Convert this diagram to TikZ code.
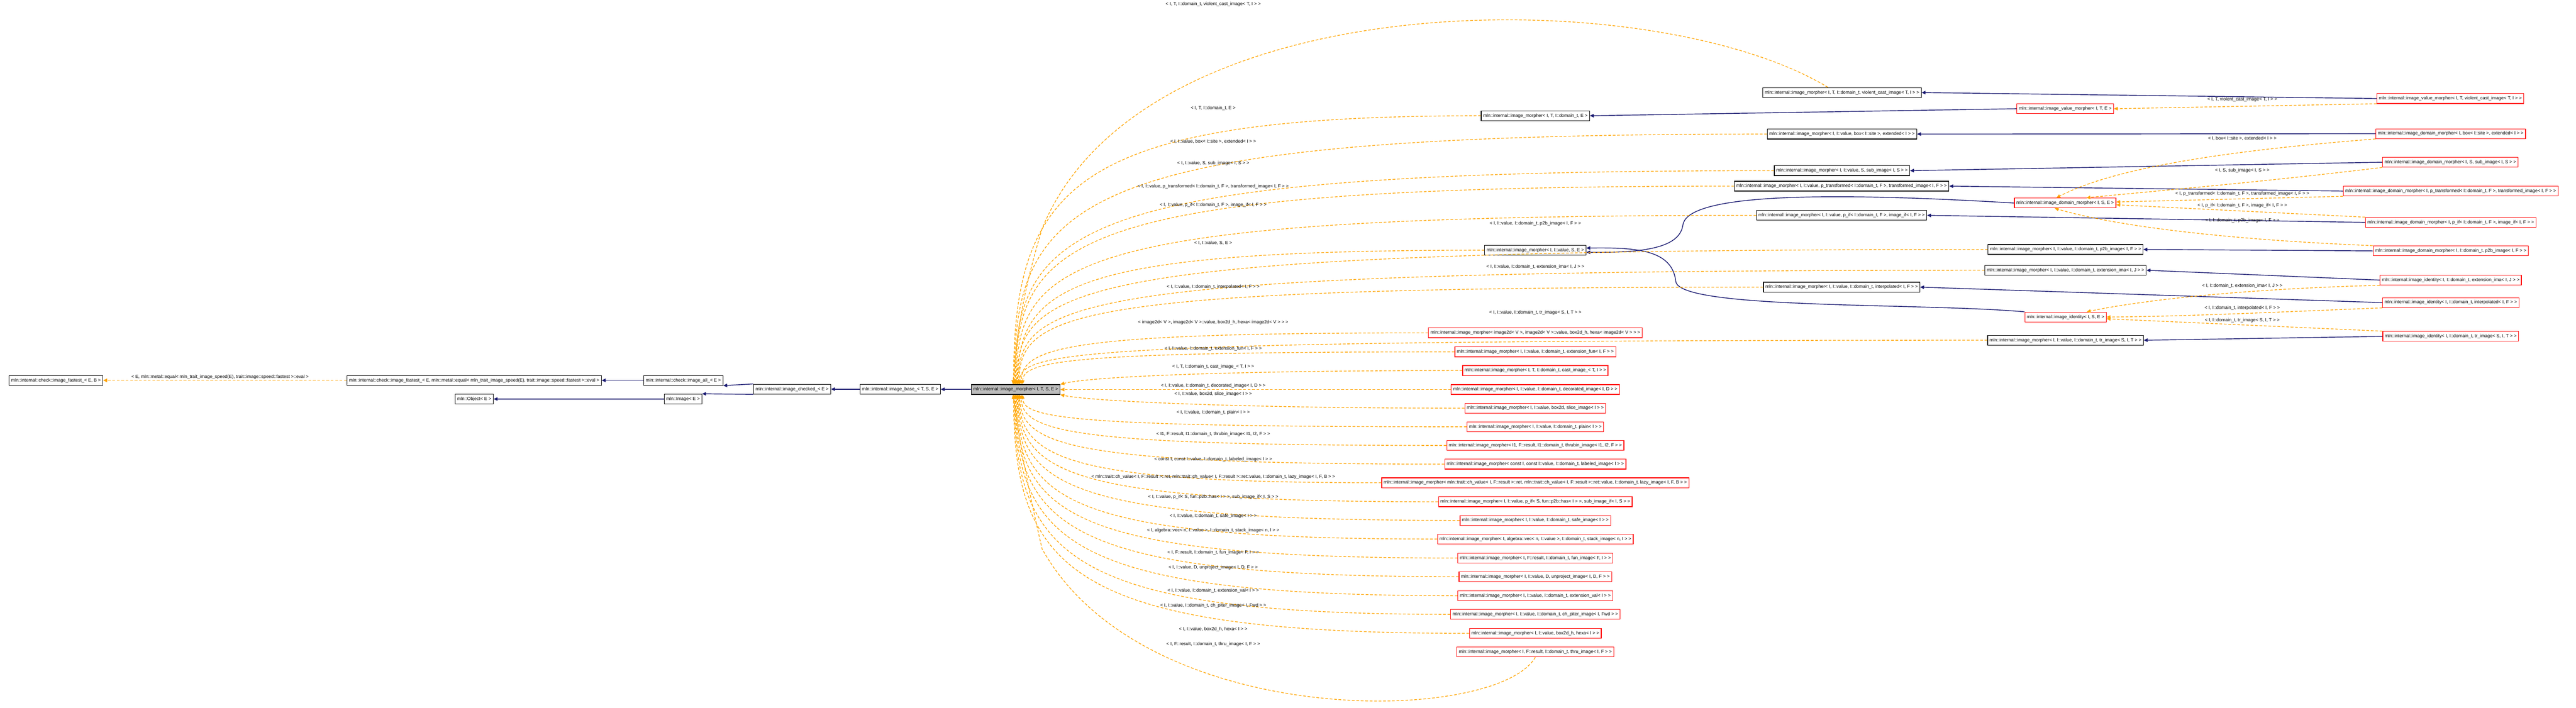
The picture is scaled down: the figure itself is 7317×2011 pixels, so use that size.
\documentclass[tikz,border=0pt]{standalone}
\usepackage{fontspec}
\setmainfont{Liberation Sans}
\usetikzlibrary{arrows.meta,calc}
\definecolor{navy}{HTML}{191970}
\definecolor{dorange}{HTML}{FFA500}
\newcommand\fsz{\fontsize{3.7pt}{4.4pt}\selectfont}
\tikzset{
  cls/.style={draw=black,fill=white,font=\fsz,minimum height=0.28cm,inner xsep=1.6pt,inner ysep=0pt,line width=0.5pt},
  rcls/.style={cls,draw=red},
  focusbox/.style={cls,fill=black!25},
  lbl/.style={font=\fsz,inner sep=0pt},
  inh/.style={draw=navy,line width=0.6pt,-{Triangle[length=3.2pt,width=2.8pt]}},
  dep/.style={draw=dorange,line width=0.55pt,dash pattern=on 2.2pt off 1.4pt,-{Triangle[length=3.2pt,width=2.8pt]}}
}
\begin{document}
\begin{tikzpicture}[x=0.01cm,y=-0.01cm]
\useasboundingbox (0,0) rectangle (7317,2011);
% left chain
\node[cls] (fEB) at (159,1081) {mln::internal::check::image\_fastest\_< E, B >};
\node[cls] (fE) at (1347,1081) {mln::internal::check::image\_fastest\_< E, mln::metal::equal< mln\_trait\_image\_speed(E), trait::image::speed::fastest >::eval >};
\node[cls] (all) at (1941,1081) {mln::internal::check::image\_all\_< E >};
\node[cls] (chk) at (2250,1106) {mln::internal::image\_checked\_< E >};
\node[cls] (base) at (2557,1106) {mln::internal::image\_base\_< T, S, E >};
\node[cls] (img) at (1940,1134) {mln::Image< E >};
\node[cls] (obj) at (1347,1134) {mln::Object< E >};
\node[focusbox] (F) at (2885,1107) {mln::internal::image\_morpher< I, T, S, E >};
\draw[inh] (F) -- (base);
\draw[inh] (base) -- (chk);
\draw[inh] (chk.north west) -- (all.south east);
\draw[inh] (chk.south west) -- (img.north east);
\draw[inh] (all) -- (fE);
\draw[inh] (img) -- (obj);
\draw[dep] (fE) -- (fEB);
\node[lbl] at (625,1072) {< E, mln::metal::equal< mln\_trait\_image\_speed(E), trait::image::speed::fastest >::eval >};
% middle column
\node[cls] (TdE) at (4361,329) {mln::internal::image\_morpher< I, T, I::domain\_t, E >};
\node[cls] (vSE) at (4361,711) {mln::internal::image\_morpher< I, I::value, S, E >};
\node[rcls] (hexa2d) at (4361,946) {mln::internal::image\_morpher< image2d< V >, image2d< V >::value, box2d\_h, hexa< image2d< V > > >};
\node[rcls] (extfun) at (4361,1000) {mln::internal::image\_morpher< I, I::value, I::domain\_t, extension\_fun< I, F > >};
\node[rcls] (cast) at (4361,1053) {mln::internal::image\_morpher< I, T, I::domain\_t, cast\_image\_< T, I > >};
\node[rcls] (deco) at (4361,1107) {mln::internal::image\_morpher< I, I::value, I::domain\_t, decorated\_image< I, D > >};
\node[rcls] (slice) at (4361,1160) {mln::internal::image\_morpher< I, I::value, box2d, slice\_image< I > >};
\node[rcls] (plain) at (4361,1213) {mln::internal::image\_morpher< I, I::value, I::domain\_t, plain< I > >};
\node[rcls] (thrubin) at (4361,1266) {mln::internal::image\_morpher< I1, F::result, I1::domain\_t, thrubin\_image< I1, I2, F > >};
\node[rcls] (labeled) at (4361,1319) {mln::internal::image\_morpher< const I, const I::value, I::domain\_t, labeled\_image< I > >};
\node[rcls] (lazy) at (4361,1372) {mln::internal::image\_morpher< mln::trait::ch\_value< I, F::result >::ret, mln::trait::ch\_value< I, F::result >::ret::value, I::domain\_t, lazy\_image< I, F, B > >};
\node[rcls] (subif) at (4361,1426) {mln::internal::image\_morpher< I, I::value, p\_if< S, fun::p2b::has< I > >, sub\_image\_if< I, S > >};
\node[rcls] (safe) at (4361,1479) {mln::internal::image\_morpher< I, I::value, I::domain\_t, safe\_image< I > >};
\node[rcls] (stack) at (4361,1532) {mln::internal::image\_morpher< I, algebra::vec< n, I::value >, I::domain\_t, stack\_image< n, I > >};
\node[rcls] (funimg) at (4361,1586) {mln::internal::image\_morpher< I, F::result, I::domain\_t, fun\_image< F, I > >};
\node[rcls] (unproj) at (4361,1639) {mln::internal::image\_morpher< I, I::value, D, unproject\_image< I, D, F > >};
\node[rcls] (extval) at (4361,1693) {mln::internal::image\_morpher< I, I::value, I::domain\_t, extension\_val< I > >};
\node[rcls] (chpiter) at (4361,1746) {mln::internal::image\_morpher< I, I::value, I::domain\_t, ch\_piter\_image< I, Fwd > >};
\node[rcls] (hexa) at (4361,1800) {mln::internal::image\_morpher< I, I::value, box2d\_h, hexa< I > >};
\node[rcls] (thru) at (4361,1853) {mln::internal::image\_morpher< I, F::result, I::domain\_t, thru\_image< I, F > >};
% column 5232
\node[cls] (violB) at (5232,263) {mln::internal::image\_morpher< I, T, I::domain\_t, violent\_cast\_image< T, I > >};
\node[cls] (extB) at (5232,381) {mln::internal::image\_morpher< I, I::value, box< I::site >, extended< I > >};
\node[cls] (subB) at (5232,485) {mln::internal::image\_morpher< I, I::value, S, sub\_image< I, S > >};
\node[cls] (transB) at (5231,529) {mln::internal::image\_morpher< I, I::value, p\_transformed< I::domain\_t, F >, transformed\_image< I, F > >};
\node[cls] (ifB) at (5231,612) {mln::internal::image\_morpher< I, I::value, p\_if< I::domain\_t, F >, image\_if< I, F > >};
\node[cls] (interpB) at (5231,816) {mln::internal::image\_morpher< I, I::value, I::domain\_t, interpolated< I, F > >};
% column 5867
\node[rcls] (vmTE) at (5866,309) {mln::internal::image\_value\_morpher< I, T, E >};
\node[rcls] (dmSE) at (5866,577) {mln::internal::image\_domain\_morpher< I, S, E >};
\node[cls] (p2bB) at (5867,709) {mln::internal::image\_morpher< I, I::value, I::domain\_t, p2b\_image< I, F > >};
\node[cls] (extimaB) at (5867,768) {mln::internal::image\_morpher< I, I::value, I::domain\_t, extension\_ima< I, J > >};
\node[rcls] (idSE) at (5867,901) {mln::internal::image\_identity< I, S, E >};
\node[cls] (trimB) at (5867,967) {mln::internal::image\_morpher< I, I::value, I::domain\_t, tr\_image< S, I, T > >};
% column 6961
\node[rcls] (vmviol) at (6960,280) {mln::internal::image\_value\_morpher< I, T, violent\_cast\_image< T, I > >};
\node[rcls] (dmext) at (6961,380) {mln::internal::image\_domain\_morpher< I, box< I::site >, extended< I > >};
\node[rcls] (dmsub) at (6960,461) {mln::internal::image\_domain\_morpher< I, S, sub\_image< I, S > >};
\node[rcls] (dmtrans) at (6961,543) {mln::internal::image\_domain\_morpher< I, p\_transformed< I::domain\_t, F >, transformed\_image< I, F > >};
\node[rcls] (dmif) at (6961,632) {mln::internal::image\_domain\_morpher< I, p\_if< I::domain\_t, F >, image\_if< I, F > >};
\node[rcls] (dmp2b) at (6961,713) {mln::internal::image\_domain\_morpher< I, I::domain\_t, p2b\_image< I, F > >};
\node[rcls] (idextima) at (6961,796) {mln::internal::image\_identity< I, I::domain\_t, extension\_ima< I, J > >};
\node[rcls] (idinterp) at (6961,860) {mln::internal::image\_identity< I, I::domain\_t, interpolated< I, F > >};
\node[rcls] (idtrim) at (6961,956) {mln::internal::image\_identity< I, I::domain\_t, tr\_image< S, I, T > >};
% inheritance (navy)
\draw[inh] (vmviol.west) -- (violB.east);
\draw[inh] (vmTE.west) -- (TdE.east);
\draw[inh] (dmext.west) -- (extB.east);
\draw[inh] (dmsub.west) -- (subB.east);
\draw[inh] (dmtrans.west) -- (transB.east);
\draw[inh] (dmif.west) -- (ifB.east);
\draw[inh] (dmp2b.west) -- (p2bB.east);
\draw[inh] (idextima.west) -- (extimaB.east);
\draw[inh] (idinterp.west) -- (interpB.east);
\draw[inh] (idtrim.west) -- (trimB.east);
\draw[inh] (dmSE.west) .. controls (5100,540) and (4790,560) .. (4780,640) .. controls (4770,710) and (4650,718) .. ([yshift=-0.06cm]vSE.east);
\draw[inh] (idSE.north west) .. controls (5450,860) and (4770,880) .. (4760,800) .. controls (4750,710) and (4650,703) .. ([yshift=0.06cm]vSE.east);
% template deps (right column to middle templates)
\draw[dep] (vmviol.south west) -- (vmTE.east);
\draw[dep] (dmext.south west) .. controls (6300,430) and (6000,480) .. ([xshift=-0.25cm]dmSE.north);
\draw[dep] (dmsub.south west) .. controls (6400,520) and (6150,540) .. ([xshift=0.6cm]dmSE.north);
\draw[dep] (dmtrans.south west) -- ([yshift=0.03cm]dmSE.east);
\draw[dep] (dmif.north west) -- ([yshift=-0.05cm]dmSE.east);
\draw[dep] (dmp2b.north west) .. controls (6300,680) and (6000,640) .. ([xshift=-0.3cm]dmSE.south);
\draw[dep] (idextima.south west) .. controls (6400,820) and (6100,850) .. ([xshift=0.6cm]idSE.north);
\draw[dep] (idinterp.south west) .. controls (6400,890) and (6200,899) .. (idSE.east);
\draw[dep] (idtrim.north west) -- ([yshift=-0.05cm]idSE.east);
\node[lbl] at (6369,283) {< I, T, violent\_cast\_image< T, I > >};
\node[lbl] at (6369,394) {< I, box< I::site >, extended< I > >};
\node[lbl] at (6369,484) {< I, S, sub\_image< I, S > >};
\node[lbl] at (6369,551) {< I, p\_transformed< I::domain\_t, F >, transformed\_image< I, F > >};
\node[lbl] at (6369,584) {< I, p\_if< I::domain\_t, F >, image\_if< I, F > >};
\node[lbl] at (6369,627) {< I, I::domain\_t, p2b\_image< I, F > >};
\node[lbl] at (6369,812) {< I, I::domain\_t, extension\_ima< I, J > >};
\node[lbl] at (6369,875) {< I, I::domain\_t, interpolated< I, F > >};
\node[lbl] at (6369,910) {< I, I::domain\_t, tr\_image< S, I, T > >};
% deps to focus
\coordinate (cx) at (3060,0);
\foreach \n/\s in {TdE/-6,extB/-4,subB/-2,transB/0,ifB/2,p2bB/4,vSE/6,extimaB/8,interpB/10,trimB/12,hexa2d/16,extfun/20}{
  \coordinate (e) at ([xshift=\s*0.1mm]F.north);
  \draw[dep] (\n.west) .. controls (cx |- \n.west) and ($(e)!0.75!(e |- \n.west)$) .. (e);
}
\foreach \n/\s in {plain/20,thrubin/16,labeled/12,lazy/10,subif/8,safe/6,stack/4,funimg/2,unproj/0,extval/-2,chpiter/-4,hexa/-6}{
  \coordinate (e) at ([xshift=\s*0.1mm]F.south);
  \draw[dep] (\n.west) .. controls (cx |- \n.west) and ($(e)!0.75!(e |- \n.west)$) .. (e);
}
\draw[dep] (cast.west) .. controls (3500,1053) and (3100,1070) .. (F.north east);
\draw[dep] (deco.west) -- (F.east);
\draw[dep] (slice.west) .. controls (3500,1160) and (3100,1140) .. (F.south east);
\draw[dep] ([xshift=-0.4cm]violB.north) .. controls (4700,-50) and (3250,-60) .. (2960,650) .. controls (2900,850) and (2890,950) .. ([xshift=-0.08cm]F.north);
\draw[dep] (thru.south) .. controls (4250,2060) and (3250,2080) .. (2960,1560) .. controls (2900,1300) and (2890,1200) .. ([xshift=-0.08cm]F.south);
% labels to focus
\node[lbl] at (3446,12) {< I, T, I::domain\_t, violent\_cast\_image< T, I > >};
\node[lbl] at (3446,308) {< I, T, I::domain\_t, E >};
\node[lbl] at (3446,402) {< I, I::value, box< I::site >, extended< I > >};
\node[lbl] at (3446,464) {< I, I::value, S, sub\_image< I, S > >};
\node[lbl] at (3446,530) {< I, I::value, p\_transformed< I::domain\_t, F >, transformed\_image< I, F > >};
\node[lbl] at (3446,583) {< I, I::value, p\_if< I::domain\_t, F >, image\_if< I, F > >};
\node[lbl] at (4361,636) {< I, I::value, I::domain\_t, p2b\_image< I, F > >};
\node[lbl] at (3446,690) {< I, I::value, S, E >};
\node[lbl] at (4361,758) {< I, I::value, I::domain\_t, extension\_ima< I, J > >};
\node[lbl] at (3446,815) {< I, I::value, I::domain\_t, interpolated< I, F > >};
\node[lbl] at (4361,888) {< I, I::value, I::domain\_t, tr\_image< S, I, T > >};
\node[lbl] at (3446,916) {< image2d< V >, image2d< V >::value, box2d\_h, hexa< image2d< V > > >};
\node[lbl] at (3446,991) {< I, I::value, I::domain\_t, extension\_fun< I, F > >};
\node[lbl] at (3446,1042) {< I, T, I::domain\_t, cast\_image\_< T, I > >};
\node[lbl] at (3446,1096) {< I, I::value, I::domain\_t, decorated\_image< I, D > >};
\node[lbl] at (3446,1120) {< I, I::value, box2d, slice\_image< I > >};
\node[lbl] at (3446,1172) {< I, I::value, I::domain\_t, plain< I > >};
\node[lbl] at (3446,1234) {< I1, F::result, I1::domain\_t, thrubin\_image< I1, I2, F > >};
\node[lbl] at (3446,1306) {< const I, const I::value, I::domain\_t, labeled\_image< I > >};
\node[lbl] at (3446,1356) {< mln::trait::ch\_value< I, F::result >::ret, mln::trait::ch\_value< I, F::result >::ret::value, I::domain\_t, lazy\_image< I, F, B > >};
\node[lbl] at (3446,1412) {< I, I::value, p\_if< S, fun::p2b::has< I > >, sub\_image\_if< I, S > >};
\node[lbl] at (3446,1467) {< I, I::value, I::domain\_t, safe\_image< I > >};
\node[lbl] at (3446,1508) {< I, algebra::vec< n, I::value >, I::domain\_t, stack\_image< n, I > >};
\node[lbl] at (3446,1571) {< I, F::result, I::domain\_t, fun\_image< F, I > >};
\node[lbl] at (3446,1613) {< I, I::value, D, unproject\_image< I, D, F > >};
\node[lbl] at (3446,1679) {< I, I::value, I::domain\_t, extension\_val< I > >};
\node[lbl] at (3446,1721) {< I, I::value, I::domain\_t, ch\_piter\_image< I, Fwd > >};
\node[lbl] at (3446,1788) {< I, I::value, box2d\_h, hexa< I > >};
\node[lbl] at (3446,1831) {< I, F::result, I::domain\_t, thru\_image< I, F > >};
\end{tikzpicture}
\end{document}
